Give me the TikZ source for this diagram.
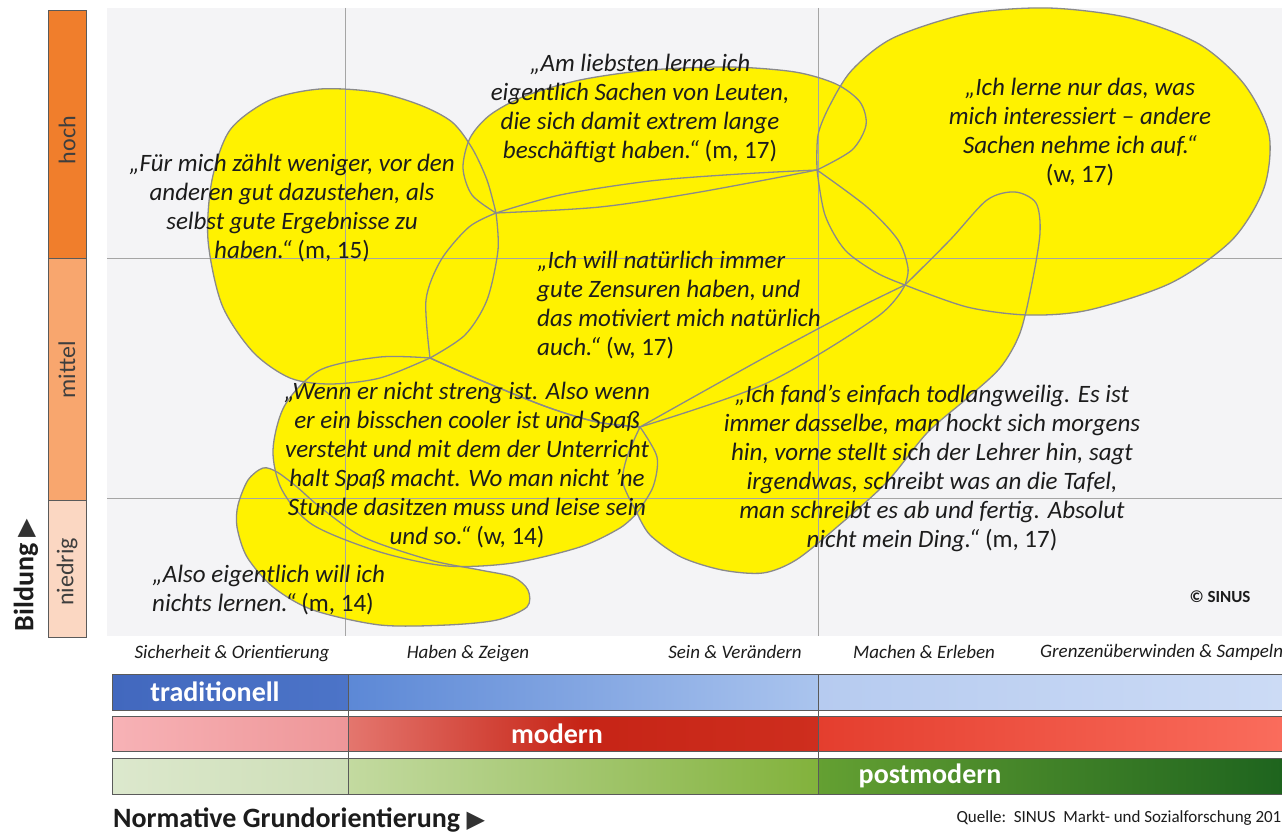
\documentclass[tikz,border=0pt]{standalone}
\usepackage{fontspec}
\setmainfont{Carlito}
\newfontfamily\symfont{DejaVu Sans}
\definecolor{blobyellow}{RGB}{255,242,0}
\definecolor{blobline}{RGB}{138,138,138}
\definecolor{gridgray}{RGB}{165,165,165}
\definecolor{chartbg}{RGB}{244,244,246}
\definecolor{inkdark}{RGB}{28,28,28}
\definecolor{trigray}{RGB}{50,50,50}
\definecolor{barline}{RGB}{90,90,90}
\definecolor{hochcol}{RGB}{240,126,44}
\definecolor{mittelcol}{RGB}{248,166,110}
\definecolor{niedrigcol}{RGB}{251,215,194}
% bar colours, three steps per bar
\definecolor{tradA}{RGB}{66,104,190}
\definecolor{tradB}{RGB}{76,116,200}
\definecolor{tradC}{RGB}{92,136,214}
\definecolor{tradD}{RGB}{170,196,238}
\definecolor{tradE}{RGB}{182,203,240}
\definecolor{tradF}{RGB}{204,219,245}
\definecolor{modA}{RGB}{247,178,182}
\definecolor{modB}{RGB}{238,150,152}
\definecolor{modC}{RGB}{228,118,110}
\definecolor{modD}{RGB}{198,36,22}
\definecolor{modE}{RGB}{206,46,30}
\definecolor{modF}{RGB}{228,62,46}
\definecolor{modG}{RGB}{250,108,92}
\definecolor{postA}{RGB}{220,232,205}
\definecolor{postB}{RGB}{205,222,182}
\definecolor{postC}{RGB}{195,218,160}
\definecolor{postD}{RGB}{130,178,60}
\definecolor{postE}{RGB}{100,160,50}
\definecolor{postF}{RGB}{30,100,30}

\tikzset{
  blob/.style={fill=blobyellow},
  blobedge/.style={draw=blobline, line width=1.3pt},
  gridline/.style={draw=gridgray, line width=0.8pt},
  quote/.style={font=\itshape\fontsize{25}{29}\selectfont, text=inkdark, inner sep=0pt, align=center},
  axislabel/.style={font=\itshape\fontsize{19}{22}\selectfont, text=inkdark, inner sep=0pt},
  levellabel/.style={font=\fontsize{24}{28}\selectfont, text=inkdark!85, rotate=90, inner sep=0pt},
  barlabel/.style={font=\bfseries\fontsize{28}{32}\selectfont, text=white, inner sep=0pt},
  axistitle/.style={font=\bfseries\fontsize{28}{32}\selectfont, text=inkdark, inner sep=0pt},
  bar/.style={draw=barline, line width=0.8pt}
}

% the yellow milieu blobs, built from edges that meet at shared points
\newcommand\blobFuerMich{plot[smooth] coordinates {(430,358) (380,378) (330,384) (290,378) (253,352) (222,305) (208,240) (212,180) (230,130) (270,100) (320,89) (375,92) (420,105) (452,122) (472,148) (487,180) (496,213)}
  -- plot[smooth] coordinates {(496,213) (498,250) (487,300) (465,335) (430,358)} -- cycle}
\newcommand\blobLiebsten{plot[smooth] coordinates {(496,213) (472,195) (463,168) (470,138) (490,115) (525,96) (580,80) (650,70) (730,67) (795,72) (836,84) (860,102) (866,125) (852,150) (817,170)}
  -- plot[smooth] coordinates {(817,170) (700,192) (600,207) (496,213)} -- cycle}
\newcommand\blobInteresse{plot[smooth] coordinates {(817,170) (818,135) (830,105) (852,70) (893,38) (967,14) (1048,8) (1130,18) (1199,44) (1244,84) (1269,134) (1264,188) (1232,240) (1171,283) (1089,310) (1028,315) (967,307) (905,285)}
  -- plot[smooth] coordinates {(905,285) (877,273) (845,250) (825,215) (817,170)} -- cycle}
\newcommand\blobZensuren{plot[smooth] coordinates {(496,213) (560,195) (650,181) (740,174) (817,170)}
  -- plot[smooth] coordinates {(817,170) (867,207) (898,240) (908,268) (905,285)}
  -- plot[smooth] coordinates {(905,285) (877,317) (767,383) (640,427)}
  -- plot[smooth] coordinates {(640,427) (597,422) (547,407) (480,380) (430,358)}
  -- plot[smooth] coordinates {(430,358) (426,300) (441,260) (469,227) (496,213)} -- cycle}
\newcommand\blobStreng{plot[smooth] coordinates {(430,358) (380,357) (320,370) (285,405) (273,450) (282,490) (313,525) (380,552) (447,566) (513,563) (580,547) (620,528) (637,513)}
  -- plot[smooth] coordinates {(637,513) (653,487) (657,457) (640,427)}
  -- plot[smooth] coordinates {(640,427) (597,422) (547,407) (480,380) (430,358)} -- cycle}
\newcommand\blobLangweilig{plot[smooth] coordinates {(905,285) (850,312) (760,360) (640,427)}
  -- plot[smooth] coordinates {(640,427) (627,457) (623,483) (637,513)}
  -- plot[smooth] coordinates {(637,513) (650,535) (681,557) (722,570) (763,573) (796,560) (837,527) (886,483) (927,433) (965,400) (1000,368) (1020,333) (1032,283) (1040,233) (1036,203) (1015,192) (987,200) (950,240) (905,285)} -- cycle}
\newcommand\blobNichts{plot[smooth cycle] coordinates {(263,468) (277,472) (297,487) (320,507) (363,537) (430,560) (480,570) (513,577) (528,590) (527,607) (497,620) (447,625) (380,625) (313,610) (273,587) (247,557) (237,527) (238,505) (248,480)}}

\begin{document}
\begin{tikzpicture}[x=1pt,y=-1pt]
\useasboundingbox (0,0) rectangle (1282,834);
\fill[white] (0,0) rectangle (1282,834);

% Bildung scale on the left
\filldraw[fill=hochcol, bar] (48,10) rectangle (86,258);
\filldraw[fill=mittelcol, bar] (48,258) rectangle (86,500);
\filldraw[fill=niedrigcol, bar] (48,500) rectangle (86,637);
\node[levellabel] (hoch) at (67,140) {hoch};
\node[levellabel] (mittel) at (67,370) {mittel};
\node[levellabel] (niedrig) at (67,572) {niedrig};
\node[axistitle, rotate=90] (bildung) at (26,575) {Bildung \textcolor{trigray}{\symfont\fontsize{24}{28}\selectfont ▶}};

% chart area
\fill[chartbg] (107,8) rectangle (1282,636);
\fill[blob] \blobFuerMich;
\fill[blob] \blobLiebsten;
\fill[blob] \blobInteresse;
\fill[blob] \blobZensuren;
\fill[blob] \blobStreng;
\fill[blob] \blobLangweilig;
\fill[blob] \blobNichts;
\draw[gridline] (345,8) -- (345,636);
\draw[gridline] (818,8) -- (818,636);
\draw[gridline] (107,258) -- (1282,258);
\draw[gridline] (107,498) -- (1282,498);
\draw[blobedge] \blobFuerMich;
\draw[blobedge] \blobLiebsten;
\draw[blobedge] \blobInteresse;
\draw[blobedge] \blobZensuren;
\draw[blobedge] \blobStreng;
\draw[blobedge] \blobLangweilig;
\draw[blobedge] \blobNichts;

% quotes
\node[quote] (liebsten) at (640,108) {„Am liebsten lerne ich\\eigentlich Sachen von Leuten,\\die sich damit extrem lange\\beschäftigt haben.“ {\upshape(m, 17)}};
\node[quote] (interesse) at (1080,132) {„Ich lerne nur das, was\\mich interessiert – andere\\Sachen nehme ich auf.“\\{\upshape(w, 17)}};
\node[quote] (fuermich) at (292,208) {„Für mich zählt weniger, vor den\\anderen gut dazustehen, als\\selbst gute Ergebnisse zu\\haben.“ {\upshape(m, 15)}};
\node[quote, align=left, anchor=west] (zensuren) at (537,305) {„Ich will natürlich immer\\gute Zensuren haben, und\\das motiviert mich natürlich\\auch.“ {\upshape(w, 17)}};
\node[quote] (streng) at (467,465) {„Wenn er nicht streng ist. Also wenn\\er ein bisschen cooler ist und Spaß\\versteht und mit dem der Unterricht\\halt Spaß macht. Wo man nicht ’ne\\Stunde dasitzen muss und leise sein\\und so.“ {\upshape(w, 14)}};
\node[quote] (langweilig) at (932,468) {„Ich fand’s einfach todlangweilig. Es ist\\immer dasselbe, man hockt sich morgens\\hin, vorne stellt sich der Lehrer hin, sagt\\irgendwas, schreibt was an die Tafel,\\man schreibt es ab und fertig. Absolut\\nicht mein Ding.“ {\upshape(m, 17)}};
\node[quote, align=left, anchor=west] (nichts) at (152,590) {„Also eigentlich will ich\\nichts lernen.“ {\upshape(m, 14)}};
\node[font=\bfseries\fontsize{17}{20}\selectfont, text=inkdark] (sinus) at (1220,597) {© SINUS};

% value orientations
\node[axislabel] (sicherheit) at (232,654) {Sicherheit \& Orientierung};
\node[axislabel] (haben) at (468,654) {Haben \& Zeigen};
\node[axislabel] (sein) at (735,652) {Sein \& Verändern};
\node[axislabel] (machen) at (924,652) {Machen \& Erleben};
\node[axislabel, anchor=west] (grenzen) at (1040,652) {Grenzenüberwinden \& Sampeln};

% the three bars, shaded in three steps
\shade[left color=tradA, right color=tradB] (112,674) rectangle (348,710);
\shade[left color=tradC, right color=tradD] (348,674) rectangle (818,710);
\shade[left color=tradE, right color=tradF] (818,674) rectangle (1282,710);
\shade[left color=modA, right color=modB] (112,716) rectangle (348,751);
\shade[left color=modC, right color=modE, middle color=modD] (348,716) rectangle (818,751);
\shade[left color=modF, right color=modG] (818,716) rectangle (1282,751);
\shade[left color=postA, right color=postB] (112,758) rectangle (348,794);
\shade[left color=postC, right color=postD] (348,758) rectangle (818,794);
\shade[left color=postE, right color=postF] (818,758) rectangle (1282,794);
\draw[bar] (112,674) rectangle (1282,710);
\draw[bar] (112,716) rectangle (1282,751);
\draw[bar] (112,758) rectangle (1282,794);
\draw[bar] (348,674) -- (348,794);
\draw[bar] (818,674) -- (818,794);
\node[barlabel] (traditionell) at (215,692) {traditionell};
\node[barlabel] (modern) at (557,734) {modern};
\node[barlabel] (postmodern) at (930,776) {postmodern};

\node[axistitle, anchor=west] (normativ) at (113,820) {Normative Grundorientierung \textcolor{trigray}{\symfont\fontsize{24}{28}\selectfont ▶}};
\node[font=\fontsize{17}{20}\selectfont, text=inkdark, anchor=west] (quelle) at (953,818) {Quelle:\ \ SINUS\ \ Markt- und Sozialforschung 201};
\end{tikzpicture}
\end{document}
